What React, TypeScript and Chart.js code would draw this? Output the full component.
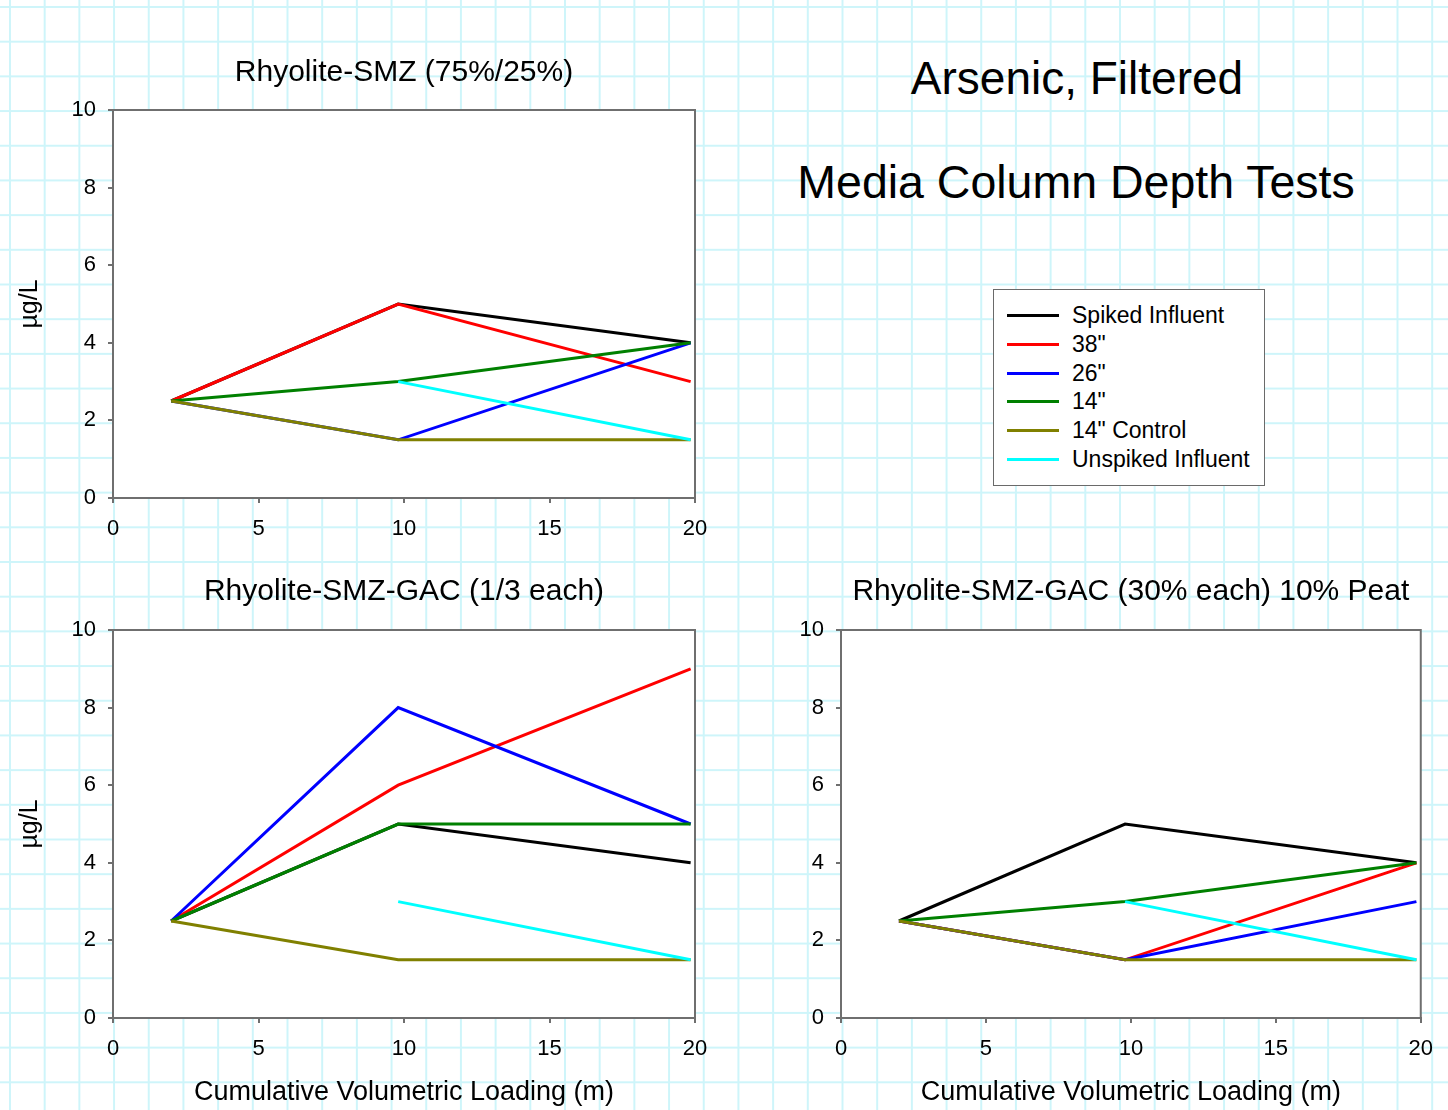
import React, { useEffect, useRef } from 'react';
import { Chart, registerables } from 'chart.js';

Chart.register(...registerables);

const FONT = '"Liberation Sans", Arial, Helvetica, sans-serif';
const AXIS = '#6f6f6f';

// Cumulative volumetric loading (m) at each sampling event
const xLoading = [2, 9.8, 19.85];
const xTicks = [0, 5, 10, 15, 20];
const yTicks = [0, 2, 4, 6, 8, 10];

const seriesNames = ['Spiked Influent', '38"', '26"', '14"', '14" Control', 'Unspiked Influent'];
const seriesColors = ['#000000', '#ff0000', '#0000ff', '#008000', '#808000', '#00ffff'];

// Rhyolite-SMZ (75%/25%)
const smzSpiked = [2.5, 5, 4];
const smz38 = [2.5, 5, 3];
const smz26 = [2.5, 1.5, 4];
const smz14 = [2.5, 3, 4];
const smz14Control = [2.5, 1.5, 1.5];
const smzUnspiked = [null, 3, 1.5];

// Rhyolite-SMZ-GAC (1/3 each)
const gacSpiked = [2.5, 5, 4];
const gac38 = [2.5, 6, 9];
const gac26 = [2.5, 8, 5];
const gac14 = [2.5, 5, 5];
const gac14Control = [2.5, 1.5, 1.5];
const gacUnspiked = [null, 3, 1.5];

// Rhyolite-SMZ-GAC (30% each) 10% Peat
const peatSpiked = [2.5, 5, 4];
const peat38 = [2.5, 1.5, 4];
const peat26 = [2.5, 1.5, 3];
const peat14 = [2.5, 3, 4];
const peat14Control = [2.5, 1.5, 1.5];
const peatUnspiked = [null, 3, 1.5];

const framePlugin = {
  id: 'plotFrame',
  beforeDraw(chart: any) {
    const { ctx, chartArea: a } = chart;
    ctx.save();
    ctx.fillStyle = '#ffffff';
    ctx.fillRect(a.left, a.top, a.right - a.left, a.bottom - a.top);
    ctx.restore();
  },
  beforeDatasetsDraw(chart: any) {
    const { ctx, chartArea: a } = chart;
    ctx.save();
    ctx.strokeStyle = AXIS;
    ctx.lineWidth = 2;
    ctx.beginPath();
    ctx.moveTo(a.left, a.top);
    ctx.lineTo(a.right, a.top);
    ctx.lineTo(a.right, a.bottom);
    ctx.stroke();
    ctx.restore();
  },
};

type Box = {
  left: number;
  top: number;
  width: number;
  height: number;
  padRight: number;
  titleTop: number;
  titleBottom: number;
  xAxisHeight: number;
};

function Panel(props: {
  box: Box;
  title: string;
  series: (number | null)[][];
  yTitle: boolean;
  xTitle: boolean;
}) {
  const ref = useRef<HTMLCanvasElement>(null);
  const { box, title, series, yTitle, xTitle } = props;

  useEffect(() => {
    const canvas = ref.current;
    if (!canvas) return;
    const chart = new Chart(canvas, {
      type: 'line',
      data: {
        datasets: series.map((vals, i) => ({
          label: seriesNames[i],
          data: xLoading.map((x, j) => ({ x, y: vals[j] })),
          borderColor: seriesColors[i],
          backgroundColor: seriesColors[i],
          borderWidth: 3,
          pointRadius: 0,
          pointHoverRadius: 0,
          tension: 0,
          fill: false,
          spanGaps: false,
          order: -i,
        })),
      },
      options: {
        responsive: false,
        animation: false,
        devicePixelRatio: 1,
        events: [],
        layout: { padding: { left: 0, right: box.padRight, top: 0, bottom: 0 } },
        plugins: {
          legend: { display: false },
          tooltip: { enabled: false },
          title: {
            display: true,
            text: title,
            fullSize: false,
            color: '#000000',
            font: { family: FONT, size: 30, weight: 'normal', lineHeight: 1 },
            padding: { top: box.titleTop, bottom: box.titleBottom },
          },
        },
        scales: {
          x: {
            type: 'linear',
            position: 'bottom',
            min: 0,
            max: 20,
            afterBuildTicks: (s: any) => {
              s.ticks = xTicks.map((v) => ({ value: v }));
            },
            ticks: {
              color: '#000000',
              font: { family: FONT, size: 22, lineHeight: 1 },
              padding: 15,
              maxRotation: 0,
              autoSkip: false,
            },
            grid: {
              drawOnChartArea: false,
              drawTicks: true,
              tickLength: 5,
              color: AXIS,
              lineWidth: 2,
            },
            border: { display: true, color: AXIS, width: 2 },
            title: {
              display: xTitle,
              text: 'Cumulative Volumetric Loading (m)',
              color: '#000000',
              font: { family: FONT, size: 27, lineHeight: 1 },
              padding: { top: 0, bottom: 4 },
            },
            afterFit: (s: any) => {
              s.height = box.xAxisHeight;
            },
          },
          y: {
            type: 'linear',
            position: 'left',
            min: 0,
            max: 10,
            afterBuildTicks: (s: any) => {
              s.ticks = yTicks.map((v) => ({ value: v }));
            },
            ticks: {
              color: '#000000',
              font: { family: FONT, size: 22, lineHeight: 1 },
              padding: 12,
            },
            grid: {
              drawOnChartArea: false,
              drawTicks: true,
              tickLength: 5,
              color: AXIS,
              lineWidth: 2,
            },
            border: { display: true, color: AXIS, width: 2 },
            title: {
              display: yTitle,
              text: 'µg/L',
              color: '#000000',
              font: { family: FONT, size: 25, lineHeight: 1 },
              padding: { top: 18, bottom: 0 },
            },
            afterFit: (s: any) => {
              s.width = 113;
            },
          },
        },
      } as any,
      plugins: [framePlugin],
    });
    return () => chart.destroy();
  }, []);

  return (
    <canvas
      ref={ref}
      width={box.width}
      height={box.height}
      style={{
        position: 'absolute',
        left: box.left,
        top: box.top,
        width: box.width,
        height: box.height,
      }}
    />
  );
}

const legendTextStyle: React.CSSProperties = {
  fontFamily: FONT,
  fontSize: 23,
  color: '#000',
  lineHeight: '28.8px',
  whiteSpace: 'nowrap',
};

export default function App() {
  return (
    <div
      style={{
        position: 'absolute',
        left: 0,
        top: 0,
        width: 1448,
        height: 1110,
        overflow: 'hidden',
        backgroundColor: '#ffffff',
        backgroundImage:
          'linear-gradient(to right, rgb(206,245,250) 2px, transparent 2px), linear-gradient(to bottom, rgb(206,245,250) 2px, transparent 2px)',
        backgroundSize: '34.7px 34.7px',
        backgroundPosition: '9px 6px',
      }}
    >
      <Panel
        box={{ left: 0, top: 40, width: 728, height: 540, padRight: 33, titleTop: 18, titleBottom: 22, xAxisHeight: 82 }}
        title="Rhyolite-SMZ (75%/25%)"
        series={[smzSpiked, smz38, smz26, smz14, smz14Control, smzUnspiked]}
        yTitle={true}
        xTitle={false}
      />
      <Panel
        box={{ left: 0, top: 560, width: 728, height: 550, padRight: 33, titleTop: 17, titleBottom: 23, xAxisHeight: 92 }}
        title="Rhyolite-SMZ-GAC (1/3 each)"
        series={[gacSpiked, gac38, gac26, gac14, gac14Control, gacUnspiked]}
        yTitle={true}
        xTitle={true}
      />
      <Panel
        box={{ left: 728, top: 560, width: 720, height: 550, padRight: 27, titleTop: 17, titleBottom: 23, xAxisHeight: 92 }}
        title="Rhyolite-SMZ-GAC (30% each) 10% Peat"
        series={[peatSpiked, peat38, peat26, peat14, peat14Control, peatUnspiked]}
        yTitle={false}
        xTitle={true}
      />

      <div
        style={{
          position: 'absolute',
          left: 777,
          width: 600,
          top: 55,
          textAlign: 'center',
          fontFamily: FONT,
          fontSize: 46,
          lineHeight: '46px',
          color: '#000',
          whiteSpace: 'nowrap',
        }}
      >
        Arsenic, Filtered
      </div>
      <div
        style={{
          position: 'absolute',
          left: 776,
          width: 600,
          top: 159,
          textAlign: 'center',
          fontFamily: FONT,
          fontSize: 46.5,
          lineHeight: '46px',
          color: '#000',
          whiteSpace: 'nowrap',
        }}
      >
        Media Column Depth Tests
      </div>

      <div
        style={{
          position: 'absolute',
          left: 993,
          top: 289,
          width: 272,
          height: 197,
          boxSizing: 'border-box',
          border: '1.5px solid #6a6a6a',
          background: '#ffffff',
        }}
      >
        {seriesNames.map((name, i) => (
          <div
            key={name}
            style={{
              position: 'absolute',
              left: 0,
              top: 11 + i * 28.8,
              height: 28.8,
              width: 270,
            }}
          >
            <div
              style={{
                position: 'absolute',
                left: 13,
                top: 13,
                width: 52,
                height: 3,
                background: seriesColors[i],
              }}
            />
            <div style={{ position: 'absolute', left: 78, top: 0, ...legendTextStyle }}>{name}</div>
          </div>
        ))}
      </div>
    </div>
  );
}
